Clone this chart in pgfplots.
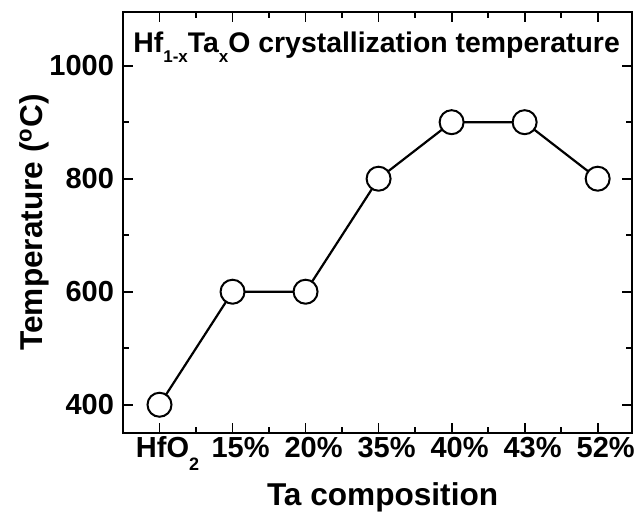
\documentclass[border=0pt]{standalone}
\usepackage{fontspec}
\setmainfont{Liberation Sans}
\usepackage{pgfplots}
\pgfplotsset{compat=1.18}
\usetikzlibrary{calc}
\begin{document}
\begin{tikzpicture}
\begin{axis}[
  scale only axis, width=254.5pt, height=210.5pt,
  xmin=-0.5, xmax=6.47, ymin=350, ymax=1095,
  axis line style={line width=1pt},
  tick align=inside,
  xtick={0,...,6},
  xticklabels={HfO\raisebox{-0.45em}{\fontsize{9}{9}\selectfont 2},15\%,20\%,35\%,40\%,43\%,52\%},
  minor x tick num=1,
  ytick={400,600,800,1000}, minor y tick num=1,
  major tick length=5pt, minor tick length=3pt,
  every tick/.style={line width=0.9pt, black},
  tick label style={font=\fontsize{14.5}{16}\selectfont\bfseries},
  xticklabel style={xshift=4pt, anchor=base, yshift=-12pt},
  yticklabel style={xshift=-1pt},
  /pgf/number format/assume math mode=true,
  /pgf/number format/1000 sep={},
  xlabel={Ta composition},
  ylabel={Temperature (\textsuperscript{o}C)},
  label style={font=\fontsize{15.8}{17}\selectfont\bfseries},
  xlabel style={at={(axis description cs:0.51,-0.173)}, anchor=base},
  ylabel style={at={(axis description cs:-0.159,0.5)}, anchor=base},
]
\addplot[black, line width=1.1pt, mark=*, mark size=6pt,
  mark options={fill=white, draw=black, line width=1pt}]
  coordinates {(0,400)(1,600)(2,600)(3,800)(4,900)(5,900)(6,800)};
\node[anchor=base west, inner sep=0pt, font=\fontsize{14.2}{16}\selectfont\bfseries,
  xshift=5pt, yshift=-20.5pt] at (rel axis cs:0,1)
  {Hf\raisebox{-0.35em}{\fontsize{8.5}{9}\selectfont 1-x}Ta\raisebox{-0.35em}{\fontsize{8.5}{9}\selectfont x}O crystallization temperature};
\end{axis}
\pgfresetboundingbox
\path ($(current axis.south west)+(-61.5pt,-40pt)$) rectangle ($(current axis.north east)+(4.5pt,6pt)$);
\end{tikzpicture}
\end{document}
